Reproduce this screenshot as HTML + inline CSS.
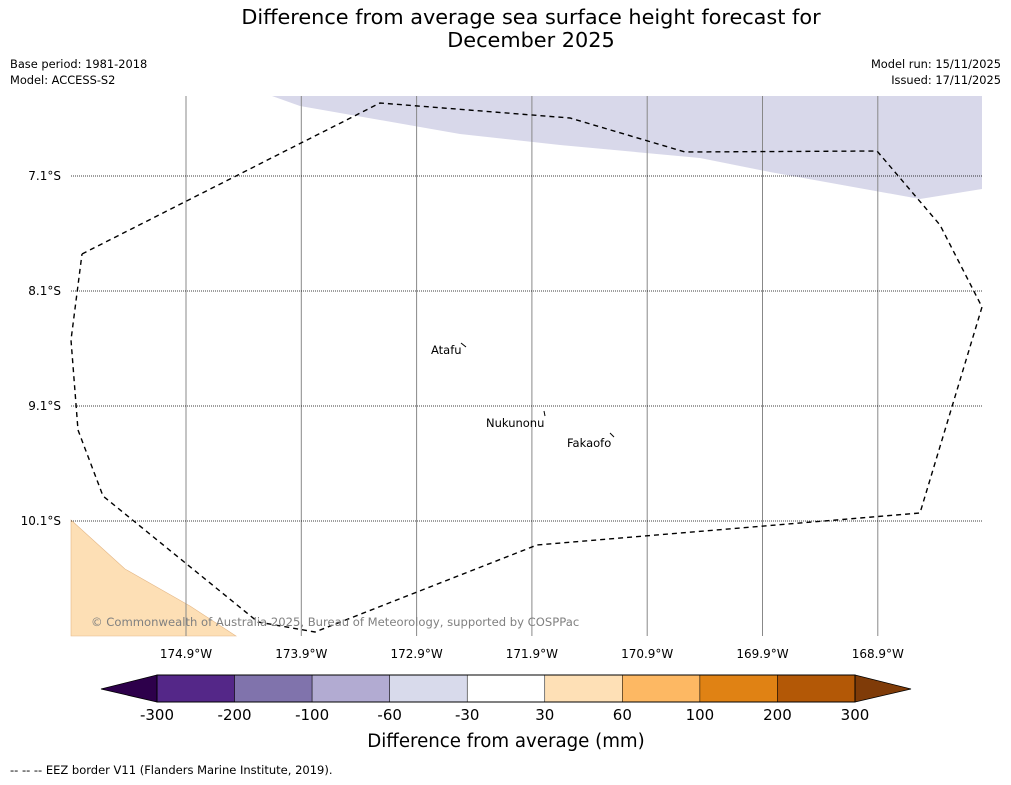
<!DOCTYPE html>
<html><head><meta charset="utf-8"><style>
body{margin:0;background:#fff;font-family:"DejaVu Sans","Liberation Sans",sans-serif;}
</style></head><body>
<svg width="1011" height="781" viewBox="0 0 1011 781" xmlns="http://www.w3.org/2000/svg" font-family="DejaVu Sans, Liberation Sans, sans-serif">
<text x="531" y="24" font-size="20.8" text-anchor="middle">Difference from average sea surface height forecast for</text>
<text x="531" y="47" font-size="20.8" text-anchor="middle">December 2025</text>
<text x="10" y="68" font-size="11.4">Base period: 1981-2018</text>
<text x="10" y="84" font-size="11.4">Model: ACCESS-S2</text>
<text x="1001" y="68" font-size="11.4" text-anchor="end">Model run: 15/11/2025</text>
<text x="1001" y="84" font-size="11.4" text-anchor="end">Issued: 17/11/2025</text>
<g id="map">
<polygon points="272,96 300,106 380,120 460,134 560,145 700,158 770,172 920,199 982,189 982,96" fill="#d8d8ea"/>
<polygon points="71,520 125,569 190,606 236,636 71,636" fill="#fddfb5" stroke="#e5b888" stroke-width="0.6"/>
<g id="grid"></g>
<polyline points="82,254 380,103 570,118 685,152 877,151 940,225 982,307 920,513 537,545 315,632 258,622 103,496 78,430 71,340 82,254" fill="none" stroke="#000" stroke-width="1.4" stroke-dasharray="5,4"/>
<text x="431" y="354" font-size="11.5">Atafu</text>
<path d="M461 343 l5 4" stroke="#000"/>
<text x="486" y="427" font-size="11.5">Nukunonu</text>
<path d="M544 411 l1 5" stroke="#000"/>
<text x="567" y="447" font-size="11.5">Fakaofo</text>
<path d="M610 433 l4 4" stroke="#000"/>
<text x="91" y="626" font-size="11.6" fill="#808080">© Commonwealth of Australia 2025, Bureau of Meteorology, supported by COSPPac</text>
</g>
<g id="cbar"></g>
<text x="506" y="747" font-size="18.2" text-anchor="middle">Difference from average (mm)</text>
<text x="10" y="774" font-size="11.5">--  --  -- EEZ border V11 (Flanders Marine Institute, 2019).</text>
</svg>
<script>
const lonTicks=[-174.9,-173.9,-172.9,-171.9,-170.9,-169.9,-168.9];
const latTicks=[-7.1,-8.1,-9.1,-10.1];
const cbLevels=[-300,-200,-100,-60,-30,30,60,100,200,300];
const cbColors=["#542788","#8073ac","#b2abd2","#d8daeb","#ffffff","#fee0b6","#fdb863","#e08214","#b35806"];
const NS="http://www.w3.org/2000/svg";
const xLon=l=>186+(l+174.9)*115.3;
const yLat=l=>176+(-7.1-l)*115;
const g=document.getElementById('grid');
function mk(t,a,p){const e=document.createElementNS(NS,t);for(const k in a)e.setAttribute(k,a[k]);(p||g).appendChild(e);return e;}
lonTicks.forEach(l=>{const x=xLon(l);
const ln=mk('line',{x1:x,x2:x,y1:96,y2:636,stroke:'#888','stroke-width':1});


const t=mk('text',{x:x,y:658,'font-size':12,'text-anchor':'middle'});t.textContent=Math.abs(l).toFixed(1)+'°W';

});
latTicks.forEach(l=>{const y=yLat(l);
const ln=mk('line',{x1:71,x2:982,y1:y,y2:y,stroke:'#000','stroke-width':0.8,'stroke-dasharray':'1,1'});


const t=mk('text',{x:61,y:y+4,'font-size':12,'text-anchor':'end'});t.textContent=Math.abs(l).toFixed(1)+'°S';

});
const cb=document.getElementById('cbar');
const x0=157,x1=855,y0=675,y1=702,w=(x1-x0)/cbColors.length;
const lt=mk('polygon',{points:`${x0},${y0} 101,689 ${x0},${y1}`,fill:'#2d004b',stroke:'#000','stroke-width':0.8},cb);


const rt=mk('polygon',{points:`${x1},${y0} 911,689 ${x1},${y1}`,fill:'#7f3b08',stroke:'#000','stroke-width':0.8},cb);


cbColors.forEach((c,i)=>{const r=mk('rect',{x:x0+i*w,y:y0,width:w,height:y1-y0,fill:c,stroke:'#000','stroke-width':0.5},cb);

});
cbLevels.forEach((v,i)=>{const t=mk('text',{x:x0+i*w,y:720,'font-size':15,'text-anchor':'middle'},cb);t.textContent=v;

});
mk('rect',{x:x0,y:y0,width:x1-x0,height:y1-y0,fill:'none',stroke:'#000','stroke-width':1},cb);
</script>
</body></html>
